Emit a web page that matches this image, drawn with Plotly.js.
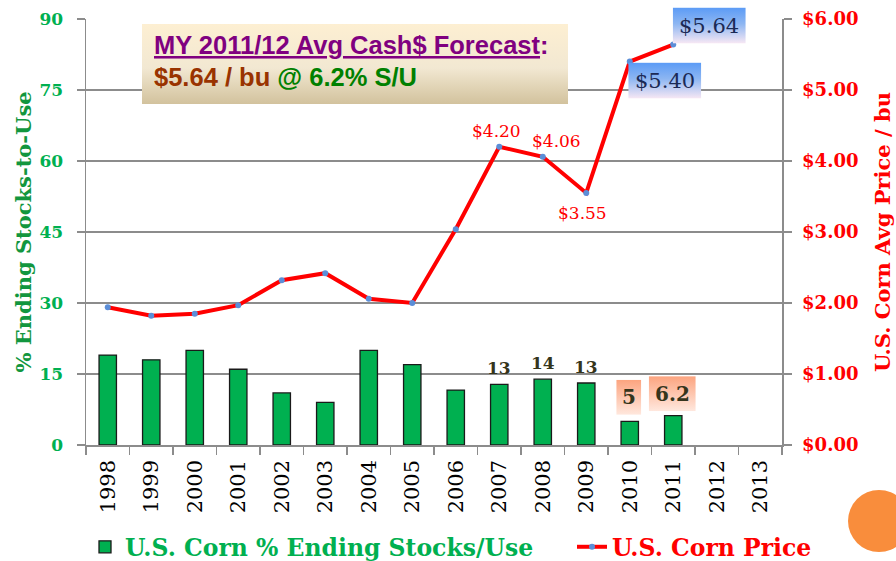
<!DOCTYPE html>
<html>
<head>
<meta charset="utf-8">
<script src="https://cdn.plot.ly/plotly-3.0.1.min.js"></script>
<style>html,body{margin:0;padding:0;background:#fff;}#chart{width:896px;height:561px;}</style>
</head>
<body>
<div id="chart"></div>
<script>
// ---- data ----
const years = ['1998','1999','2000','2001','2002','2003','2004','2005','2006','2007','2008','2009','2010','2011','2012','2013'];
const stocksToUse = [19.0, 18.0, 20.0, 16.0, 11.0, 9.0, 20.0, 17.0, 11.6, 12.8, 13.9, 13.1, 5.0, 6.2, null, null];
const priceYears = ['1998','1999','2000','2001','2002','2003','2004','2005','2006','2007','2008','2009','2010','2011'];
const cornPrice = [1.94, 1.82, 1.85, 1.97, 2.32, 2.42, 2.06, 2.00, 3.04, 4.20, 4.06, 3.55, 5.40, 5.64];
const barLabelYears = ['2007','2008','2009'];
const barLabelTexts = ['13','14','13'];
const hiBarYears = ['2010','2011'];
const hiBarTexts = ['5','6.2'];
const priceLabelYears = ['2007','2008','2009'];
const priceLabelTexts = ['$4.20','$4.06','$3.55'];
const hiPriceYears = ['2010','2011'];
const hiPriceTexts = ['$5.40','$5.64'];

// ---- geometry helpers (plot area in px) ----
const W = 896, H = 561;
const M = {l: 86, r: 114, t: 19, b: 116};
const PW = W - M.l - M.r, PH = H - M.t - M.b;
const Y1MAX = 90, Y2MAX = 6;
function catIdx(year){ return years.indexOf(year); }
function catPx(year){ return M.l + (catIdx(year) + 0.5) * PW / years.length; }
function y1Px(v){ return M.t + PH * (1 - v / Y1MAX); }
function y2Px(v){ return M.t + PH * (1 - v / Y2MAX); }
function px2paperX(px){ return (px - M.l) / PW; }
function px2paperY(py){ return (H - M.b - py) / PH; }

function gradURI(c1, c2, mid){
  const svg = '<svg xmlns="http://www.w3.org/2000/svg" width="100" height="100" preserveAspectRatio="none">' +
    '<defs><linearGradient id="g" x1="0" y1="0" x2="0" y2="1">' +
    '<stop offset="0" stop-color="' + c1 + '"/>' +
    (mid ? '<stop offset="' + mid[0] + '" stop-color="' + mid[1] + '"/>' : '') +
    '<stop offset="1" stop-color="' + c2 + '"/></linearGradient></defs>' +
    '<rect width="100" height="100" fill="url(#g)"/></svg>';
  return 'data:image/svg+xml;charset=utf-8,' + encodeURIComponent(svg);
}
function boxImage(cx, cy, w, h, uri){
  return {source: uri, xref: 'paper', yref: 'paper',
    x: px2paperX(cx - w/2), y: px2paperY(cy - h/2),
    sizex: w / PW, sizey: h / PH, sizing: 'stretch',
    xanchor: 'left', yanchor: 'top', layer: 'above'};
}

const SERIF = 'DejaVu Serif, Liberation Serif, serif';
const GRID = '#8c8c8c';

const traces = [
  {
    type: 'bar', x: years, y: stocksToUse,
    name: 'U.S. Corn % Ending Stocks/Use', legend: 'legend',
    width: 0.4,
    marker: {color: '#00B050', line: {color: '#1a1a1a', width: 1.3}},
    hoverinfo: 'skip'
  },
  {
    type: 'scatter', mode: 'lines+markers', x: priceYears, y: cornPrice, yaxis: 'y2',
    name: 'U.S. Corn Price', legend: 'legend2',
    line: {color: '#FF0000', width: 4},
    marker: {color: '#5B8ED8', size: 6},
    hoverinfo: 'skip'
  }
];

const annotations = [];
const images = [];

// stock labels above bars
barLabelYears.forEach((yr, i) => {
  const v = stocksToUse[catIdx(yr)];
  annotations.push({x: catIdx(yr), y: v, xref: 'x', yref: 'y', text: '<b>' + barLabelTexts[i] + '</b>',
    showarrow: false, yshift: 16, font: {family: SERIF, size: 17, color: '#35351c'}});
});
// highlighted stock labels with orange gradient box
const hiBoxW = [25, 47], hiShift = [24, 22];
hiBarYears.forEach((yr, i) => {
  const v = stocksToUse[catIdx(yr)];
  const cx = catPx(yr) - 1, cy = y1Px(v) - hiShift[i];
  images.push(boxImage(cx, cy, hiBoxW[i], 35, gradURI('#FCA47F', '#FFE8DE')));
  annotations.push({x: catIdx(yr), y: v, xref: 'x', yref: 'y', text: '<b>' + hiBarTexts[i] + '</b>',
    showarrow: false, yshift: hiShift[i], xshift: -1, font: {family: SERIF, size: 20, color: '#35351c'}});
});
// price labels
const plShift = [[-3, 16], [14, 16], [-4, -20]];
priceLabelYears.forEach((yr, i) => {
  const v = cornPrice[priceYears.indexOf(yr)];
  annotations.push({x: catIdx(yr), y: v, xref: 'x', yref: 'y2', text: priceLabelTexts[i],
    showarrow: false, xshift: plShift[i][0], yshift: plShift[i][1],
    font: {family: SERIF, size: 17, color: '#FF0000'}});
});
// highlighted price labels with blue gradient box
const hpShift = [[35, -19], [36, 19]];
hiPriceYears.forEach((yr, i) => {
  const v = cornPrice[priceYears.indexOf(yr)];
  const cx = catPx(yr) + hpShift[i][0], cy = y2Px(v) - hpShift[i][1];
  images.push(boxImage(cx, cy, 73, 36, gradURI('#5B9BF6', '#F8E8F4', [0.45, '#8DB6F2'])));
  annotations.push({x: catIdx(yr), y: v, xref: 'x', yref: 'y2', text: hiPriceTexts[i],
    showarrow: false, xshift: hpShift[i][0], yshift: hpShift[i][1],
    font: {family: SERIF, size: 21, color: '#1b2a55'}});
});

// forecast box
images.push(boxImage(355, 64, 426, 80, gradURI('#FDEFD2', '#D2C29D', [0.55, '#F2E8D2'])));
annotations.push({xref: 'paper', yref: 'paper', x: px2paperX(152), y: px2paperY(45),
  xanchor: 'left', yanchor: 'middle', showarrow: false,
  text: '<u>MY 2011/12 Avg Cash$ Forecast</u>:',
  font: {family: 'Liberation Sans, Arial, sans-serif', size: 25.5, color: '#800080', weight: 'bold'}});
annotations.push({xref: 'paper', yref: 'paper', x: px2paperX(152), y: px2paperY(77),
  xanchor: 'left', yanchor: 'middle', showarrow: false,
  text: '<span style="color:#993300">$5.64 / bu</span> <span style="color:#008000">@ 6.2% S/U</span>',
  font: {family: 'Liberation Sans, Arial, sans-serif', size: 25.5, color: '#993300', weight: 'bold'}});

const legendFont = {family: 'DejaVu Serif, serif', size: 23.5, weight: 'bold'};
const legY = (H - 547) / H;
const layout = {
  width: W, height: H,
  margin: M,
  paper_bgcolor: '#ffffff', plot_bgcolor: '#ffffff',
  showlegend: true,
  legend: {orientation: 'h', xref: 'container', yref: 'container', x: 85 / W, y: legY,
    xanchor: 'left', yanchor: 'middle',
    font: Object.assign({color: '#00B050'}, legendFont), bgcolor: 'rgba(0,0,0,0)'},
  legend2: {orientation: 'h', xref: 'container', yref: 'container', x: 572 / W, y: legY,
    xanchor: 'left', yanchor: 'middle',
    font: Object.assign({color: '#FF0000'}, legendFont), bgcolor: 'rgba(0,0,0,0)'},
  xaxis: {
    type: 'category', categoryorder: 'array', categoryarray: years,
    range: [-0.5, years.length - 0.5],
    showline: true, linecolor: GRID, linewidth: 1.5,
    ticks: 'outside', tickson: 'boundaries', ticklen: 8, tickcolor: GRID, tickwidth: 1.5,
    tickangle: -90, tickfont: {family: SERIF, size: 21, color: '#000'},
    ticklabelstandoff: 5,
    showgrid: false, fixedrange: true, automargin: false
  },
  yaxis: {
    range: [0, Y1MAX], dtick: 15, tick0: 0,
    showline: true, linecolor: GRID, linewidth: 1.5,
    ticks: 'outside', ticklen: 8, tickcolor: GRID, tickwidth: 1.5,
    showgrid: true, gridcolor: GRID, gridwidth: 1.5, zeroline: false,
    tickfont: {family: SERIF, size: 17, color: '#00B050', weight: 'bold'},
    ticklabelstandoff: 10,
    title: {text: '% Ending Stocks-to-Use', standoff: 2,
      font: {family: SERIF, size: 21, color: '#12963E', weight: 'bold'}},
    fixedrange: true, automargin: false
  },
  yaxis2: {
    overlaying: 'y', side: 'right', range: [0, Y2MAX], dtick: 1, tick0: 0,
    showline: true, linecolor: GRID, linewidth: 1.5,
    ticks: 'outside', ticklen: 8, tickcolor: GRID, tickwidth: 1.5,
    showgrid: false, zeroline: false, tickformat: '$.2f',
    tickfont: {family: SERIF, size: 18, color: '#FF0000', weight: 'bold'},
    ticklabelstandoff: 7,
    title: {text: 'U.S. Corn Avg Price / bu', standoff: 18,
      font: {family: SERIF, size: 21, color: '#FF0000', weight: 'bold'}},
    fixedrange: true, automargin: false
  },
  shapes: [
    {type: 'circle', xref: 'paper', yref: 'paper', xsizemode: 'pixel', ysizemode: 'pixel',
     xanchor: px2paperX(879), yanchor: px2paperY(521), x0: -31, x1: 31, y0: -31, y1: 31,
     fillcolor: '#F98D3C', line: {width: 0}}
  ],
  images: images,
  annotations: annotations
};

Plotly.newPlot('chart', traces, layout, {displayModeBar: false, staticPlot: true});
</script>
</body>
</html>
